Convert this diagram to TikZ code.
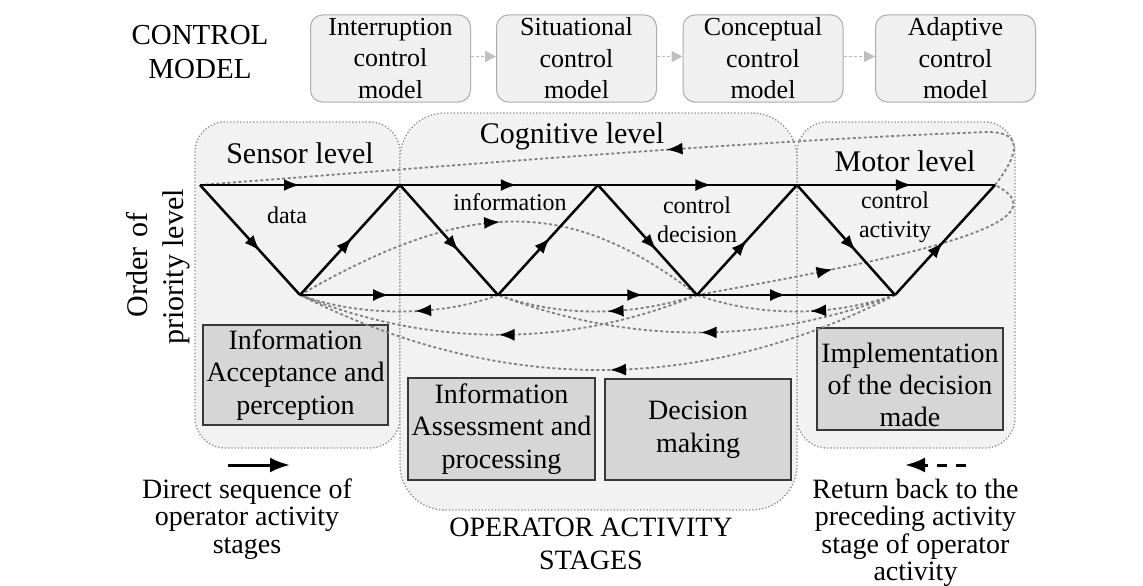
\documentclass[tikz,border=0pt]{standalone}
\usepackage{fontspec}
\setmainfont{Liberation Serif}
\usetikzlibrary{arrows.meta,decorations.markings}
\begin{document}
\begin{tikzpicture}[x=1pt,y=-1pt,
  midarr/.style={postaction={decorate},decoration={markings,mark=at position #1 with {\arrow[black]{Latex[length=16pt,width=12pt]}}}},
  mainln/.style={line width=2.5pt,black},
  retln/.style={draw=black!50,line width=1.8pt,dash pattern=on 3pt off 2.5pt},
  region/.style={draw=black!45,dotted,line width=1.3pt,fill=black!5,inner sep=0pt},
  topbox/.style={draw=black!32,line width=1pt,fill=black!6,rounded corners=12pt,minimum width=160pt,minimum height=87pt,align=center,inner sep=0pt,font=\fontsize{26}{31.5}\selectfont},
  stagebox/.style={draw=black!78,line width=2pt,fill=black!16,minimum width=186pt,minimum height=101pt,align=center,inner sep=0pt,font=\fontsize{28}{32.5}\selectfont},
  grayarr/.style={draw=black!28,line width=1.5pt,dash pattern=on 3pt off 2pt,-{Triangle[length=11pt,width=11pt,color=black!25]}},
  lvl/.style={anchor=base,font=\fontsize{30}{36}\selectfont},
  small/.style={align=center,font=\fontsize{24}{29}\selectfont,inner sep=0pt},
  legtxt/.style={align=center,font=\fontsize{28}{27.5}\selectfont,inner sep=0pt}
]
\useasboundingbox (0,0) rectangle (1143,586);
\fill[white] (0,0) rectangle (1143,586);

% regions
\node[region,rounded corners=30pt,minimum width=205pt,minimum height=326pt] (sensor) at (297.5,285) {};
\node[region,rounded corners=30pt,minimum width=218pt,minimum height=326pt] (motor) at (906,285) {};
\node[region,rounded corners=45pt,minimum width=397pt,minimum height=397pt] (cogn) at (598.5,311.5) {};

% control model header
\node[align=center,inner sep=0pt,font=\fontsize{29}{34}\selectfont] (cmtitle) at (200,52.4) {CONTROL\\MODEL};
\node[topbox] (cm1) at (390.5,58.5) {Interruption\\control\\model};
\node[topbox] (cm2) at (576.5,58.5) {Situational\\control\\model};
\node[topbox] (cm3) at (763,58.5) {Conceptual\\control\\model};
\node[topbox] (cm4) at (955.5,58.5) {Adaptive\\control\\model};
\draw[grayarr] ([yshift=2pt]cm1.east) -- ([yshift=2pt]cm2.west);
\draw[grayarr] ([yshift=2pt]cm2.east) -- ([yshift=2pt]cm3.west);
\draw[grayarr] ([yshift=2pt]cm3.east) -- ([yshift=2pt]cm4.west);

% level labels
\node[lvl] (lsens) at (300,163) {Sensor level};
\node[lvl] (lcogn) at (572,143) {Cognitive level};
\node[lvl] (lmot) at (905,171) {Motor level};

% order of priority
\node[rotate=90,anchor=base,inner sep=0pt,font=\fontsize{30}{36}\selectfont] (ord1) at (147,265) {Order\hspace{10pt}of};
\node[rotate=90,anchor=base,inner sep=0pt,font=\fontsize{30}{36}\selectfont] (ord2) at (183,267) {priority level};

% stage boxes
\node[stagebox,minimum width=185pt,minimum height=100pt] (acc) at (295.5,375) {Information\\Acceptance and\\perception};
\node[stagebox,minimum width=187pt,minimum height=102pt] (ass) at (501.5,429) {Information\\Assessment and\\processing};
\node[stagebox] (dec) at (698,429.5) {Decision\\making};
\node[stagebox,minimum height=102pt] (impl) at (910,379) {};
\node[align=center,inner sep=0pt,font=\fontsize{28}{32}\selectfont] (implt) at (910,384.5) {Implementation\\of the decision\\made};

% vertices
\coordinate (t0) at (200,185);
\coordinate (t1) at (400,185);
\coordinate (t2) at (598,185);
\coordinate (t3) at (797,185);
\coordinate (t4) at (995,185);
\coordinate (b1) at (300,295);
\coordinate (b2) at (498,295);
\coordinate (b3) at (697,295);
\coordinate (b4) at (895,295);
\coordinate (rtop) at (990,132);

% dashed curves (returns)
\draw[retln,midarr=0.42] (b2) .. controls (440,317) and (360,317) .. (b1);
\draw[retln,midarr=0.45] (b3) .. controls (630,317) and (560,317) .. (b2);
\draw[retln,midarr=0.43] (b4) .. controls (830,317) and (760,317) .. (b3);
\draw[retln,midarr=0.5] (b3) .. controls (570,348) and (430,348) .. (b1);
\draw[retln,midarr=0.49] (b4) .. controls (765,345) and (630,345) .. (b2);
\draw[retln,midarr=0.48] (b4) .. controls (700,395) and (500,395) .. (b1);
% dashed forward arcs
\draw[retln,midarr=0.5] (b1) .. controls (470,197) and (570,197) .. (b3);
\draw[retln,midarr=0.38] (b3) .. controls (880,262) and (1075,225) .. (t4);
\draw[retln,midarr=0.46] (t4) .. controls (1022,150) and (1020,133) .. (rtop) .. controls (750,140) and (400,170) .. (t0);

% main solid lines
\draw[mainln,midarr=0.5] (t0) -- (t1);
\draw[mainln,midarr=0.59] (t1) -- (t2);
\draw[mainln,midarr=0.57] (t2) -- (t3);
\draw[mainln,midarr=0.58] (t3) -- (t4);
\draw[mainln,midarr=0.45] (b1) -- (b2);
\draw[mainln,midarr=0.73] (b2) -- (b3);
\draw[mainln,midarr=0.45] (b3) -- (b4);
\draw[mainln,midarr=0.6] (t0) -- (b1);
\draw[mainln,midarr=0.52] (b1) -- (t1);
\draw[mainln,midarr=0.6] (t1) -- (b2);
\draw[mainln,midarr=0.52] (b2) -- (t2);
\draw[mainln,midarr=0.59] (t2) -- (b3);
\draw[mainln,midarr=0.5] (b3) -- (t3);
\draw[mainln,midarr=0.6] (t3) -- (b4);
\draw[mainln,midarr=0.48] (b4) -- (t4);

% small labels
\node[small,anchor=base] (ldata) at (287,223) {data};
\node[small,anchor=base] (linfo) at (510,210) {information};
\node[small] (lcd) at (697,220) {control\\decision};
\node[small] (lca) at (895,217) {control\\activity};

% legend
\coordinate (la1) at (228,465);
\coordinate (la2) at (290,465);
\draw[line width=3pt,-{Latex[length=20pt,width=15pt]}] (la1) -- (la2);
\coordinate (lr1) at (966,465);
\coordinate (lr2) at (905,465);
\draw[line width=3pt,dash pattern=on 10pt off 9pt,-{Latex[length=20pt,width=15pt]}] (lr1) -- (lr2);
\node[legtxt] (ldir) at (247,519) {Direct sequence of\\operator activity\\stages};
\node[align=center,inner sep=0pt,font=\fontsize{28}{33}\selectfont] (lops) at (591,544) {OPERATOR ACTIVITY\\STAGES};
\node[legtxt] (lret) at (915.5,533) {Return back to the\\preceding activity\\stage of operator\\activity};
\end{tikzpicture}
\end{document}
